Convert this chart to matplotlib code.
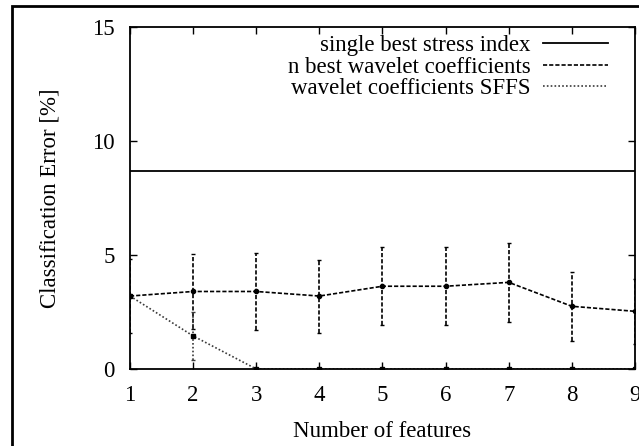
import matplotlib
matplotlib.use("Agg")
import matplotlib.pyplot as plt
from matplotlib.patches import Rectangle
from matplotlib.lines import Line2D

# Data
features = [1, 2, 3, 4, 5, 6, 7, 8, 9]
singleBest = 8.7
nBest = [3.2, 3.4, 3.4, 3.2, 3.63, 3.63, 3.8, 2.75, 2.53]
nBestErr = [1.62, 1.65, 1.67, 1.6, 1.72, 1.72, 1.74, 1.5, 1.42]
sffs = [3.2, 1.45, 0, 0, 0, 0, 0, 0, 0]
sffsErr = [0, 1.05, 0, 0, 0, 0, 0, 0, 0]

xTicks = features
yTicks = [0, 5, 10, 15]
seriesNames = ["single best stress index", "n best wavelet coefficients", "wavelet coefficients SFFS"]

plt.rcParams['font.family'] = ['Liberation Serif', 'DejaVu Serif']
plt.rcParams['font.size'] = 16.5

nDash = (2.5, 1.2)
sDash = (1, 1.3)
sColor = '#3a3a3a'

fig = plt.figure(figsize=(6.39, 4.46), dpi=100)
ax = fig.add_axes([130 / 639, 1 - 369 / 446, 505 / 639, 342 / 446])

# single best stress index: flat solid line
ax.axhline(singleBest, color='black', lw=1.3)

# n best wavelet coefficients: dashed with error bars
eb1 = ax.errorbar(features, nBest, yerr=nBestErr, color='black', lw=1.2, dashes=nDash,
                  marker='o', markersize=3, capsize=1.5)
for bar in eb1[2]:
    bar.set_linestyle((0, nDash))

# wavelet coefficients SFFS: dotted
eb2 = ax.errorbar(features, sffs, yerr=sffsErr, color=sColor, lw=1.2, dashes=sDash,
                  marker='s', markersize=3.5, markerfacecolor='black', markeredgecolor='black',
                  capsize=1.5)
for bar in eb2[2]:
    bar.set_linestyle((0, sDash))

ax.set_xlim(1, 9)
ax.set_ylim(0, 15)
ax.set_xticks(xTicks)
ax.set_yticks(yTicks)
ax.tick_params(direction='in', top=True, right=True, length=5, width=1)
ax.tick_params(axis='y', pad=11)
ax.tick_params(axis='x', pad=11.5)
for s in ax.spines.values():
    s.set_linewidth(1.3)

ax.set_xlabel("Number of features", labelpad=11)
ax.set_ylabel("Classification Error [%]", labelpad=23)

handles = [Line2D([], [], color='black', lw=1.3),
           Line2D([], [], color='black', lw=1.2, dashes=nDash),
           Line2D([], [], color=sColor, lw=1.2, dashes=sDash)]
leg = ax.legend(handles, seriesNames, loc='upper right', bbox_to_anchor=(0.973, 1.017),
                frameon=False, markerfirst=False, handlelength=2.8, handletextpad=0.55,
                labelspacing=0.03, borderaxespad=0.2, fontsize=16.5)
leg._legend_box.align = "right"

# outer frame around the figure (cropped on the right and bottom)
fig.patches.append(Rectangle((12 / 639, -0.1), 1.2, 1 - 6 / 446 + 0.1, transform=fig.transFigure,
                             fill=False, edgecolor='black', lw=2, clip_on=False))

fig.savefig("out.png", dpi=100)
